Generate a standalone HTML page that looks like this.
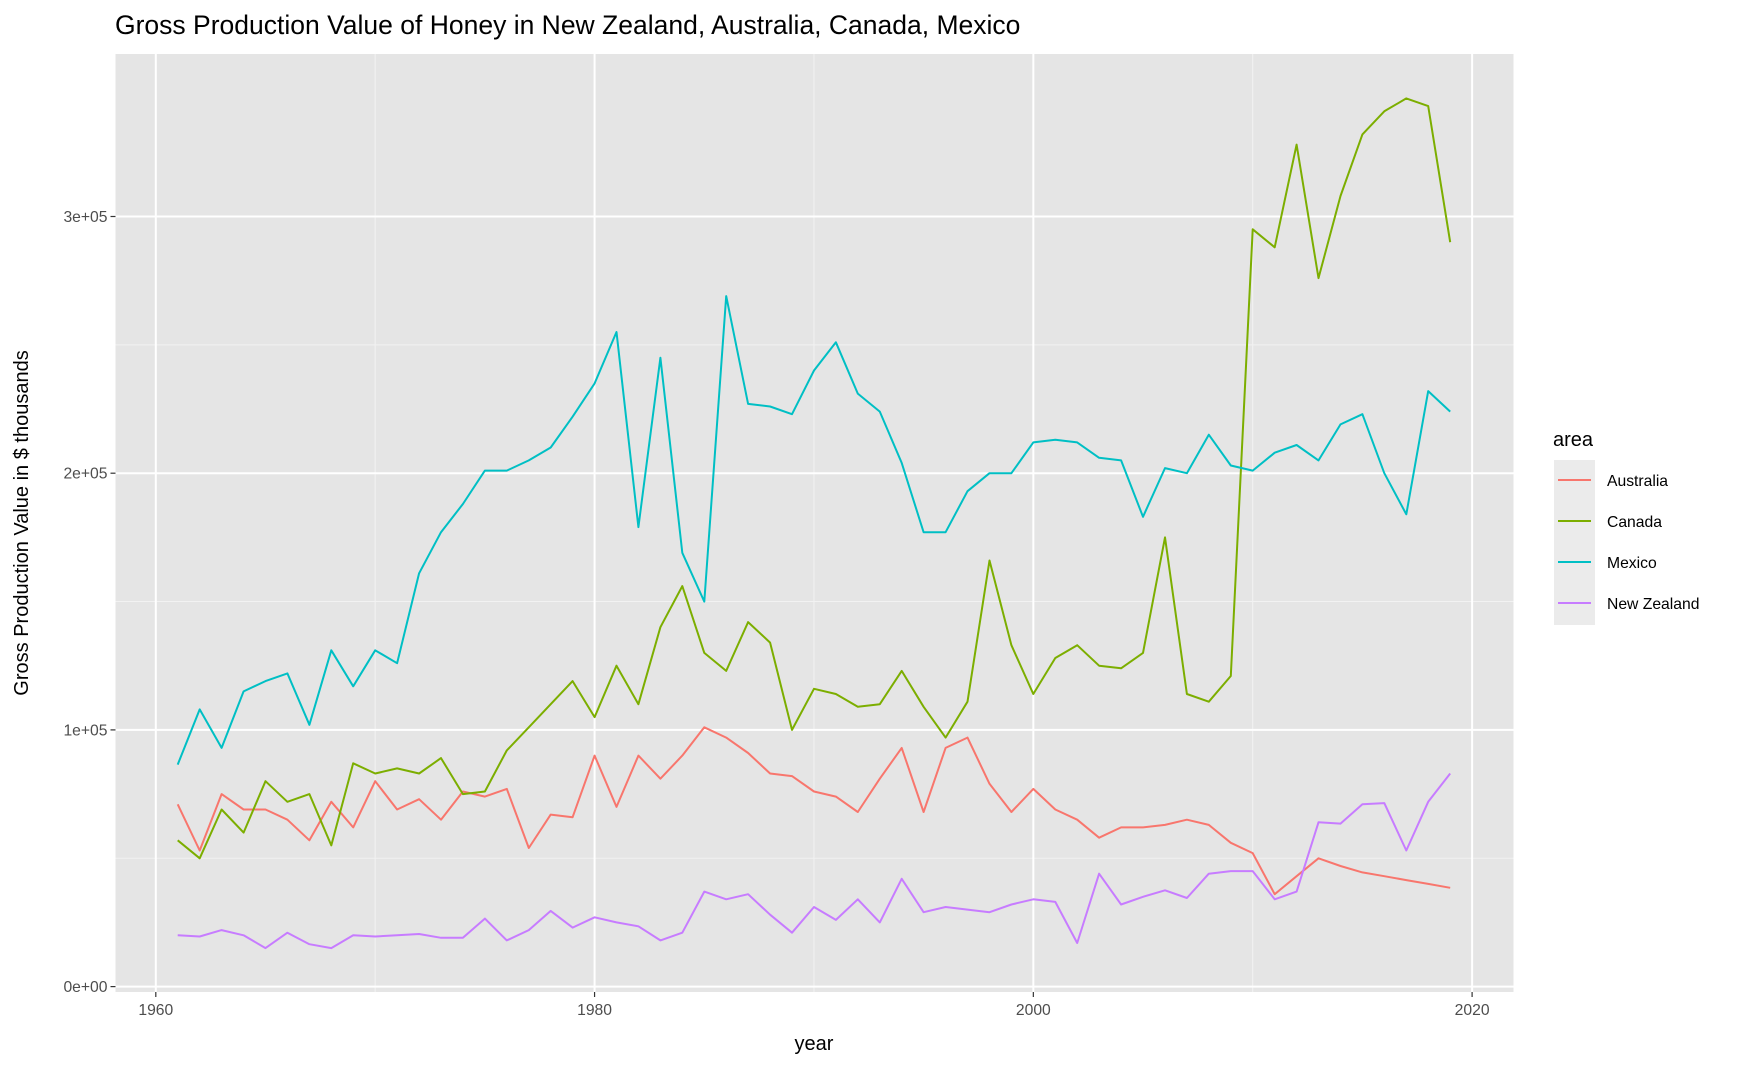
<!DOCTYPE html>
<html><head><meta charset="utf-8"><style>
html,body{margin:0;padding:0;background:#fff;}
svg{display:block;font-family:"Liberation Sans",Arial,sans-serif;}
</style></head><body>
<svg id="chart" width="1758" height="1067" viewBox="0 0 1758 1067">
<text x="115" y="34" font-size="26.5" fill="#000">Gross Production Value of Honey in New Zealand, Australia, Canada, Mexico</text>
<rect x="115.5" y="54" width="1398" height="938" fill="#e5e5e5"/>
<g id="grid"></g>
<g id="series"></g>
<g id="axes"></g>
<text x="814" y="1050" font-size="20" text-anchor="middle">year</text>
<text transform="translate(28,523) rotate(-90)" font-size="20" text-anchor="middle">Gross Production Value in $ thousands</text>
<g>
<text x="1553" y="446" font-size="20">area</text>
<rect x="1554" y="460" width="41" height="165" fill="#ebebeb"/>
<g id="legend"></g>
</g>
</svg>
<script>
const years = [];
for (let y = 1961; y <= 2019; y++) years.push(y);
const seriesNames = ["Australia","Canada","Mexico","New Zealand"];
const seriesColors = ["#F8766D","#7CAE00","#00BFC4","#C77CFF"];
const australia = [0.71,0.53,0.75,0.69,0.69,0.65,0.57,0.72,0.62,0.80,0.69,0.73,0.65,0.76,0.74,0.77,0.54,0.67,0.66,0.90,0.70,0.90,0.81,0.90,1.01,0.97,0.91,0.83,0.82,0.76,0.74,0.68,0.81,0.93,0.68,0.93,0.97,0.79,0.68,0.77,0.69,0.65,0.58,0.62,0.62,0.63,0.65,0.63,0.56,0.52,0.36,0.43,0.50,0.47,0.445,0.43,0.415,0.40,0.385];
const canada = [0.57,0.50,0.69,0.60,0.80,0.72,0.75,0.55,0.87,0.83,0.85,0.83,0.89,0.75,0.76,0.92,1.01,1.10,1.19,1.05,1.25,1.10,1.40,1.56,1.30,1.23,1.42,1.34,1.00,1.16,1.14,1.09,1.10,1.23,1.09,0.97,1.11,1.66,1.33,1.14,1.28,1.33,1.25,1.24,1.30,1.75,1.14,1.11,1.21,2.95,2.88,3.28,2.76,3.08,3.32,3.41,3.46,3.43,2.90];
const mexico = [0.865,1.08,0.93,1.15,1.19,1.22,1.02,1.31,1.17,1.31,1.26,1.61,1.77,1.88,2.01,2.01,2.05,2.10,2.22,2.35,2.55,1.79,2.45,1.69,1.50,2.69,2.27,2.26,2.23,2.40,2.51,2.31,2.24,2.04,1.77,1.77,1.93,2.00,2.00,2.12,2.13,2.12,2.06,2.05,1.83,2.02,2.00,2.15,2.03,2.01,2.08,2.11,2.05,2.19,2.23,2.00,1.84,2.32,2.24];
const newZealand = [0.20,0.195,0.22,0.20,0.15,0.21,0.165,0.15,0.20,0.195,0.20,0.205,0.19,0.19,0.265,0.18,0.22,0.295,0.23,0.27,0.25,0.235,0.18,0.21,0.37,0.34,0.36,0.28,0.21,0.31,0.26,0.34,0.25,0.42,0.29,0.31,0.30,0.29,0.32,0.34,0.33,0.17,0.44,0.32,0.35,0.375,0.345,0.44,0.45,0.45,0.34,0.37,0.64,0.635,0.71,0.715,0.53,0.72,0.83];
const xTicks = [1960,1980,2000,2020];
const xMinor = [1970,1990,2010];
const yTicks = [0,1,2,3];
const yTickLabels = ["0e+00","1e+05","2e+05","3e+05"];
const yMinor = [0.5,1.5,2.5];

const NS = "http://www.w3.org/2000/svg";
const X = yr => 155.8 + (yr - 1960) * (1472.1 - 155.8) / 60;
const Y = v => 986.6 - v * 256.7;
const PL = 115.5, PR = 1513.5, PT = 54, PB = 992;
function mk(tag, attrs, parent) {
  const e = document.createElementNS(NS, tag);
  for (const k in attrs) e.setAttribute(k, attrs[k]);
  parent.appendChild(e);
  return e;
}
const grid = document.getElementById('grid');
const axes = document.getElementById('axes');
xMinor.forEach(t => {
  const l = mk('line', {x1: X(t), x2: X(t), y1: PT, y2: PB, stroke: '#f2f2f2', 'stroke-width': 1}, grid);
  
  
});
yMinor.forEach(t => {
  const l = mk('line', {x1: PL, x2: PR, y1: Y(t), y2: Y(t), stroke: '#f2f2f2', 'stroke-width': 1}, grid);
  
  
});
xTicks.forEach(t => {
  const l = mk('line', {x1: X(t), x2: X(t), y1: PT, y2: PB, stroke: '#fff', 'stroke-width': 2}, grid);
  
  
  const tk = mk('line', {x1: X(t), x2: X(t), y1: PB, y2: PB + 5, stroke: '#333', 'stroke-width': 1.2}, axes);
  
  
  const tx = mk('text', {x: X(t), y: PB + 23, 'font-size': 15.7, fill: '#4d4d4d', 'text-anchor': 'middle'}, axes);
  tx.textContent = t;
  
  
});
yTicks.forEach((t, i) => {
  const l = mk('line', {x1: PL, x2: PR, y1: Y(t), y2: Y(t), stroke: '#fff', 'stroke-width': 2}, grid);
  
  
  const tk = mk('line', {x1: PL - 5, x2: PL, y1: Y(t), y2: Y(t), stroke: '#333', 'stroke-width': 1.2}, axes);
  
  
  const tx = mk('text', {x: PL - 8, y: Y(t) + 5.5, 'font-size': 15.7, fill: '#4d4d4d', 'text-anchor': 'end'}, axes);
  tx.textContent = yTickLabels[i];
  
  
});
const seriesData = [australia, canada, mexico, newZealand];
const sg = document.getElementById('series');
const lg = document.getElementById('legend');
seriesData.forEach((vals, si) => {
  const pts = vals.map((v, i) => X(years[i]).toFixed(1) + ',' + Y(v).toFixed(1)).join(' ');
  const p = mk('polyline', {points: pts, fill: 'none', stroke: seriesColors[si], 'stroke-width': 2, 'stroke-linejoin': 'round'}, sg);
  
  
  const cy = 480 + si * 41;
  const k = mk('line', {x1: 1558, x2: 1591, y1: cy, y2: cy, stroke: seriesColors[si], 'stroke-width': 2}, lg);
  
  
  const t = mk('text', {x: 1607, y: cy + 6, 'font-size': 15.7, fill: '#000'}, lg);
  t.textContent = seriesNames[si];
  
  
});
</script>
</body></html>
